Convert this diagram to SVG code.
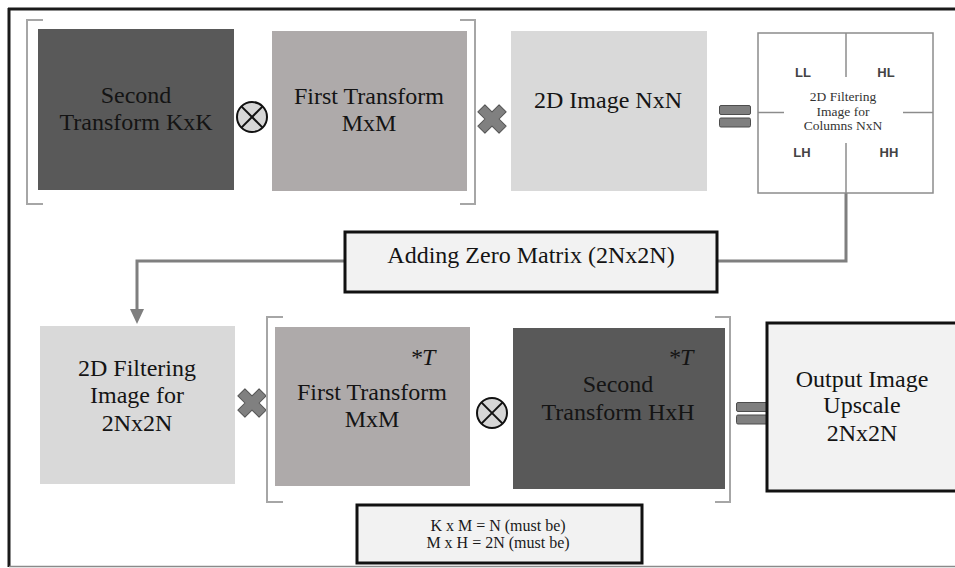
<svg xmlns="http://www.w3.org/2000/svg" width="955" height="568" viewBox="0 0 955 568">
  <style>
    .lbl { font-family: "Liberation Serif", "Times New Roman", serif; font-size: 24px; fill: #141414; text-anchor: middle; }
    .small { font-family: "Liberation Serif", "Times New Roman", serif; font-size: 13.5px; fill: #333; text-anchor: middle; }
    .note { font-family: "Liberation Serif", "Times New Roman", serif; font-size: 16px; fill: #1a1a1a; text-anchor: middle; }
    .band { font-family: "Liberation Sans", Arial, sans-serif; font-size: 13px; font-weight: bold; fill: #444; text-anchor: middle; }
    .sup { font-family: "Liberation Serif", "Times New Roman", serif; font-size: 24px; fill: #141414; font-style: italic; }
    .dark { fill: #595959; }
    .mid { fill: #aeaaaa; }
    .light { fill: #d9d9d9; }
    .boxed { fill: #f2f2f2; stroke: #111; stroke-width: 3; }
    .bracket { fill: none; stroke: #a6a6a6; stroke-width: 2; }
    .conn { fill: none; stroke: #7f7f7f; stroke-width: 3; }
    .grid { stroke: #8c8c8c; stroke-width: 1.5; }
  </style>
  <defs>
    <!-- tensor product symbol -->
    <g id="otimes">
      <circle cx="0" cy="0" r="15" fill="#d6d6d6" stroke="#111" stroke-width="2"/>
      <line x1="-10.6" y1="-10.6" x2="10.6" y2="10.6" stroke="#111" stroke-width="2"/>
      <line x1="-10.6" y1="10.6" x2="10.6" y2="-10.6" stroke="#111" stroke-width="2"/>
    </g>
    <!-- multiplication cross -->
    <path id="times" d="M-5,-15 L5,-15 L5,-5 L15,-5 L15,5 L5,5 L5,15 L-5,15 L-5,5 L-15,5 L-15,-5 L-5,-5 Z"
          transform="rotate(45)" fill="#808080" stroke="#555" stroke-width="1" stroke-linejoin="round"/>
    <!-- equals sign -->
    <g id="equals" fill="#7f7f7f" stroke="#4d4d4d" stroke-width="1">
      <rect x="0" y="0" width="31" height="9" rx="1.5"/>
      <rect x="0" y="12.5" width="31" height="9" rx="1.5"/>
    </g>
  </defs>

  <rect width="955" height="568" fill="#ffffff"/>

  <!-- outer frame -->
  <line x1="8" y1="9" x2="955" y2="9" stroke="#1a1a1a" stroke-width="3"/>
  <line x1="9" y1="8" x2="9" y2="567" stroke="#1a1a1a" stroke-width="3"/>
  <line x1="9" y1="566.5" x2="955" y2="566.5" stroke="#8a8a8a" stroke-width="1.5"/>

  <!-- connectors -->
  <g id="connectors">
    <path class="conn" d="M846,193 V261 H717"/>
    <path class="conn" d="M345,261 H137 V312"/>
    <path d="M130,309 L144,309 L137,324 Z" fill="#7f7f7f"/>
  </g>

  <!-- top row -->
  <g id="bracket-top">
    <path class="bracket" d="M43,20 H27 V204 H43"/>
    <path class="bracket" d="M460,20 H475 V204 H460"/>
  </g>
  <g id="second-kxk">
    <rect class="dark" x="38" y="29" width="196" height="161"/>
    <text class="lbl" x="136" y="103">Second</text>
    <text class="lbl" x="136" y="130">Transform KxK</text>
  </g>
  <use href="#otimes" x="252" y="117"/>
  <g id="first-mxm">
    <rect class="mid" x="272" y="31" width="195" height="160"/>
    <text class="lbl" x="369" y="104">First Transform</text>
    <text class="lbl" x="369" y="131">MxM</text>
  </g>
  <use href="#times" x="492" y="119"/>
  <g id="image-nxn">
    <rect class="light" x="511" y="31" width="196" height="160"/>
    <text class="lbl" x="608" y="108">2D Image NxN</text>
  </g>
  <use href="#equals" x="719.5" y="105.5"/>
  <g id="filtered-nxn">
    <rect x="758" y="33" width="175" height="160" fill="#ffffff" stroke="#8c8c8c" stroke-width="1.5"/>
    <line class="grid" x1="846" y1="33" x2="846" y2="77"/>
    <line class="grid" x1="846" y1="143" x2="846" y2="193"/>
    <line class="grid" x1="758" y1="112.5" x2="784" y2="112.5"/>
    <line class="grid" x1="903" y1="112.5" x2="933" y2="112.5"/>
    <text class="band" x="803" y="77">LL</text>
    <text class="band" x="886" y="77">HL</text>
    <text class="band" x="802" y="157">LH</text>
    <text class="band" x="889" y="157">HH</text>
    <text class="small" x="843" y="101">2D Filtering</text>
    <text class="small" x="843" y="116">Image for</text>
    <text class="small" x="843" y="130">Columns NxN</text>
  </g>

  <!-- middle step -->
  <g id="zero-padding">
    <rect class="boxed" x="345" y="232" width="372" height="60"/>
    <text class="lbl" x="531" y="263">Adding Zero Matrix (2Nx2N)</text>
  </g>

  <!-- bottom row -->
  <g id="filtered-2n">
    <rect class="light" x="40" y="326" width="195" height="158"/>
    <text class="lbl" x="137" y="376">2D Filtering</text>
    <text class="lbl" x="137" y="403">Image for</text>
    <text class="lbl" x="137" y="431">2Nx2N</text>
  </g>
  <use href="#times" x="252" y="403"/>
  <g id="bracket-bottom">
    <path class="bracket" d="M283,317 H267 V502 H283"/>
    <path class="bracket" d="M715,317 H730 V502 H715"/>
  </g>
  <g id="first-mxm-t">
    <rect class="mid" x="275" y="327" width="195" height="159"/>
    <text class="sup" x="410" y="365">*T</text>
    <text class="lbl" x="372" y="400">First Transform</text>
    <text class="lbl" x="372" y="427">MxM</text>
  </g>
  <use href="#otimes" x="492" y="413"/>
  <g id="second-hxh-t">
    <rect class="dark" x="513" y="328" width="212" height="161"/>
    <text class="sup" x="668" y="365">*T</text>
    <text class="lbl" x="618" y="392">Second</text>
    <text class="lbl" x="618" y="420">Transform HxH</text>
  </g>
  <use href="#equals" x="736.5" y="402.5"/>
  <g id="output-2n">
    <rect class="boxed" x="767" y="323" width="200" height="168"/>
    <text class="lbl" x="862" y="387">Output Image</text>
    <text class="lbl" x="862" y="413">Upscale</text>
    <text class="lbl" x="862" y="441">2Nx2N</text>
  </g>

  <!-- size constraints -->
  <g id="constraints">
    <rect class="boxed" x="357" y="505" width="285" height="58"/>
    <text class="note" x="498" y="531">K x M = N (must be)</text>
    <text class="note" x="498" y="548">M x H = 2N (must be)</text>
  </g>
</svg>
